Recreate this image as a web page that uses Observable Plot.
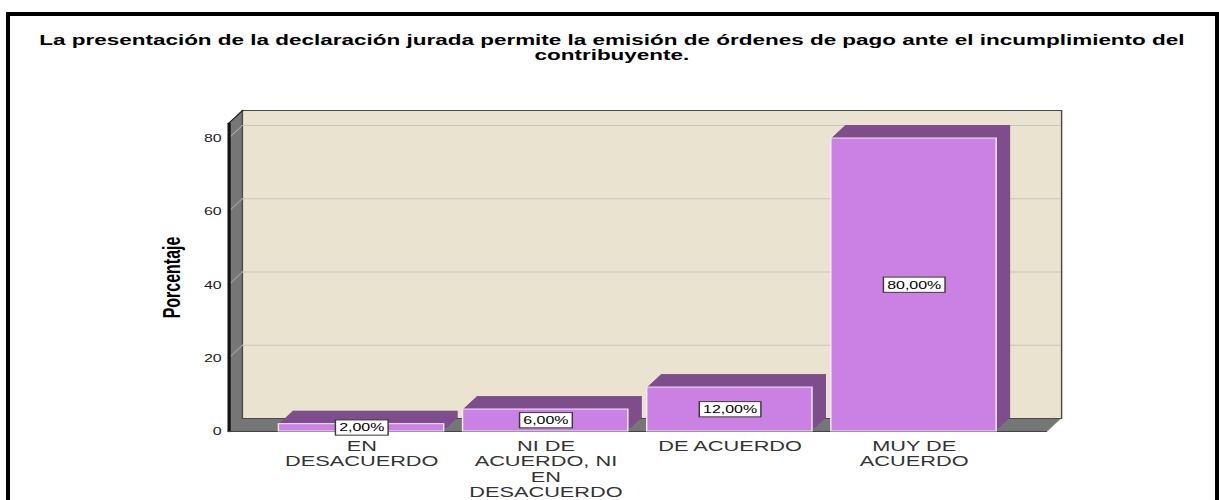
<!DOCTYPE html>
<html><head><meta charset="utf-8">
<script src="https://cdn.jsdelivr.net/npm/d3@7"></script>
<script src="https://cdn.jsdelivr.net/npm/@observablehq/plot@0.6"></script>
<style>
html,body{margin:0;padding:0;background:#fff;width:1219px;height:500px;overflow:hidden;}
#border{position:absolute;left:6px;top:12px;width:1213px;height:600px;box-sizing:border-box;border:4.5px solid #000;}
#stage{position:absolute;left:0;top:0;width:841px;transform:scaleX(1.45);transform-origin:0 0;}
#title{height:70px;box-sizing:border-box;padding-top:33.2px;padding-left:3px;text-align:center;font:bold 15.5px/14.5px "Liberation Sans",Arial,sans-serif;color:#000;white-space:nowrap;}
#chart svg{display:block;overflow:visible;}
</style></head><body>
<div id="border"></div>
<div id="stage">
<div id="title">La presentación de la declaración jurada permite la emisión de órdenes de pago ante el incumplimiento del<br>contribuyente.</div>
<div id="chart"></div>
</div>
<script>
// ---- data ----
const categories = ["EN DESACUERDO", "NI DE ACUERDO, NI EN DESACUERDO", "DE ACUERDO", "MUY DE ACUERDO"];
const tickLabels = ["EN\nDESACUERDO", "NI DE\nACUERDO, NI\nEN\nDESACUERDO", "DE ACUERDO", "MUY DE\nACUERDO"];
const percentages = [2, 6, 12, 80];
const valueLabels = ["2,00%", "6,00%", "12,00%", "80,00%"];
const yTicks = [0, 20, 40, 60, 80];
const yTitle = "Porcentaje";

const data = categories.map((c, i) => ({category: c, value: percentages[i], label: valueLabels[i], tick: tickLabels[i]}));

// ---- layout ----
const S = 1.45;             // horizontal stretch of the whole picture
const W = 841, H = 430, ML = 157, MR = 119, MT = 53, MB = 69;
const PW = W - ML - MR;
const DEPTH = 13, DX = 14 / S;
const steps = d3.range(0, DEPTH + 1);
const off = k => ({dx: k * DX / DEPTH, dy: -k});
const YMAX = 84.1;

const marks = [
  // walls (left wall + floor) by extrusion
  ...steps.map(k => Plot.frame({fill: "#777777", ...off(k)})),
  // back wall
  Plot.frame({fill: "#E9E3CF", stroke: "#4a4a4a", strokeWidth: 1, ...off(DEPTH)}),
  Plot.ruleY(yTicks.slice(1), {stroke: "#c8c5ba", ...off(DEPTH)}),
  // grid diagonals on the left wall
  ...steps.map(k => Plot.ruleY(yTicks.slice(1), {stroke: "#a9a9a9", insetRight: PW - 1, ...off(k)})),
  // top edge of left wall
  ...steps.map(k => Plot.ruleY([YMAX], {stroke: "#222", strokeWidth: 1.2, insetRight: PW - 1.2, ...off(k)})),
  Plot.frame({stroke: "#111", strokeWidth: 1.2, insetRight: PW - 1}),
  Plot.ruleY([0], {stroke: "#444"}),
  // bars: extruded top/side, then front face
  ...steps.slice(1).map(k => Plot.barY(data, {x: "category", y: "value", fill: "#7E4E8C", ...off(k)})),
  Plot.barY(data, {x: "category", y: "value", fill: "#CB80E3", stroke: "#F3E8F6", strokeWidth: 1}),
  // value labels
  Plot.text(data, {x: "category", y: d => d.value / 2, text: "label", fontSize: 11, fill: "#000"}),
  // y tick labels
  Plot.text(yTicks, {y: d => d, text: d => String(d), frameAnchor: "left", textAnchor: "end", dx: -4.6, fontSize: 11, fill: "#222"}),
  // y title
  Plot.text([yTitle], {text: d => d, frameAnchor: "left", textAnchor: "middle", rotate: -90, dx: -38.4, fontSize: 16, fontWeight: "bold", fill: "#000"}),
  // category labels
  Plot.text(data, {x: "category", text: "tick", frameAnchor: "bottom", lineAnchor: "top", dy: 8.6, fontSize: 15, lineHeight: 1.02, fill: "#333"})
];

const chart = Plot.plot({
  width: W, height: H,
  marginLeft: ML, marginRight: MR, marginTop: MT, marginBottom: MB,
  x: {domain: categories, paddingInner: 0.1, paddingOuter: 0.27, axis: null},
  y: {domain: [0, YMAX], axis: null},
  style: {fontFamily: "'Liberation Sans', Arial, sans-serif", background: "transparent", overflow: "visible"},
  marks
});
document.getElementById("chart").appendChild(chart);

// white boxes behind the value labels
d3.select(chart).selectAll("text").filter(function() { return /%$/.test(this.textContent); }).each(function() {
  const b = this.getBBox();
  const r = document.createElementNS("http://www.w3.org/2000/svg", "rect");
  r.setAttribute("x", b.x - 2.6);
  r.setAttribute("y", b.y - 1.8);
  r.setAttribute("width", b.width + 5.2);
  r.setAttribute("height", b.height + 3.2);
  r.setAttribute("fill", "#fff");
  r.setAttribute("stroke", "#3a3a3a");
  r.setAttribute("stroke-width", "1");
  const t = this.getAttribute("transform");
  if (t) r.setAttribute("transform", t);
  this.parentNode.insertBefore(r, this);
});
</script>
</body></html>
